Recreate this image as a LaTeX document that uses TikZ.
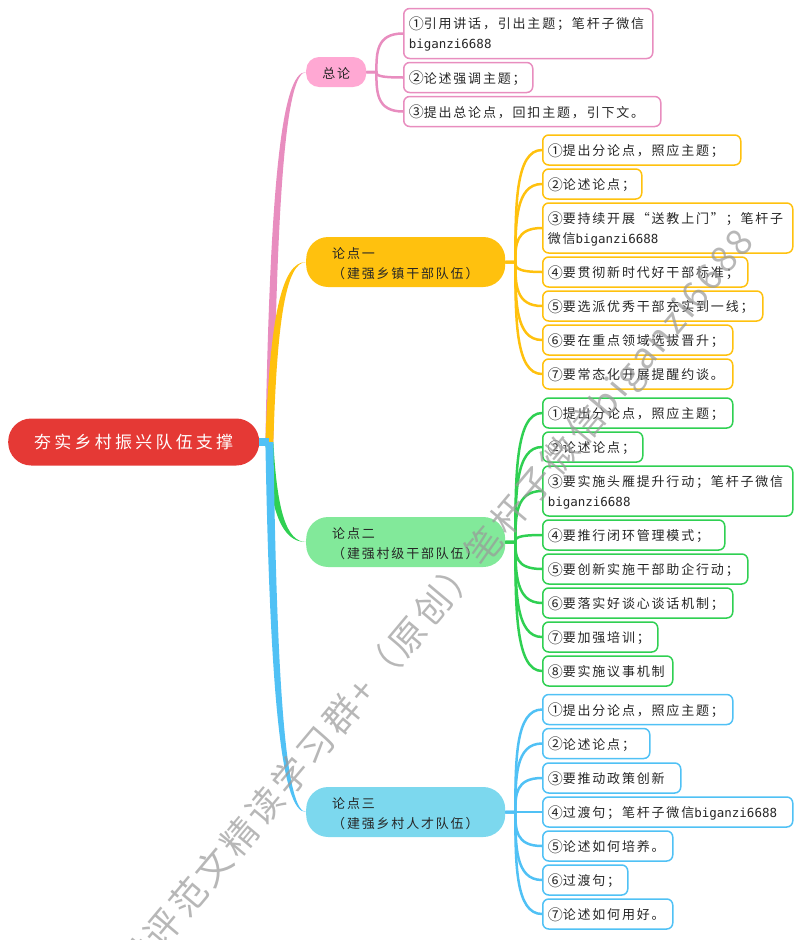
\documentclass[tikz,border=0pt]{standalone}
\usepackage{fontspec}
\usetikzlibrary{calc}
\setmainfont{Noto Sans CJK SC}[LetterSpace=14]
\newfontfamily\rootfont{Noto Sans CJK SC}[LetterSpace=19]
\newfontfamily\markfont{Noto Sans CJK SC}[LetterSpace=10]
\newfontfamily\marklatin{Noto Sans CJK SC}[LetterSpace=8]
\newfontfamily\wechatfont{DejaVu Sans Mono}
\newcommand{\wechat}{{\wechatfont\fontsize{12.5}{20}\selectfont biganzi6688}}
\newcommand{\nb}[1]{\makebox[15pt][l]{\raisebox{-0.6pt}{\fontsize{15}{20}\selectfont #1}}}
\definecolor{pinkline}{HTML}{E88DBF}
\definecolor{pinkfill}{HTML}{FFA8D3}
\definecolor{goldline}{HTML}{FFC10E}
\definecolor{greenline}{HTML}{2FD052}
\definecolor{greenfill}{HTML}{82E99A}
\definecolor{blueline}{HTML}{50C1F5}
\definecolor{bluefill}{HTML}{7CD8EE}
\definecolor{rootred}{HTML}{E53935}
\tikzset{
  leaf/.style={draw=#1,line width=1.5pt,rounded corners=6pt,anchor=west,inner xsep=5pt,inner ysep=0pt,
    minimum height=30pt,align=left,font=\fontsize{13}{20}\selectfont,text=black!85,text height=13.5pt},
  topic/.style={fill=#1,anchor=west,inner xsep=0pt,inner ysep=0pt,align=left,
    font=\fontsize{13}{20}\selectfont,text=black!85,text height=13.5pt},
  twigline/.style={line width=2.5pt}
}
% slim curve from a leaf's topic to the leaf
\newcommand{\twig}[3]{\draw[#1,twigline] (#2.east) -- ++(10,0) coordinate (jct)
  .. controls ($(jct)!.5!(jct |- #3.west)$) and (jct |- #3.west) .. (#3.west);}
% tapered limb from the hub to a topic
\newcommand{\limb}[2]{\fill[#1] let \p1=(hub),\p2=(#2.west),\n1={\x2-\x1},\n2={\y2-\y1} in
  (\x1-4pt,\y1) .. controls (\x1+0.11*\n1-3.5pt,\y1+0.69*\n2) and (\x1+0.4*\n1-2.5pt,\y2+0.002*\n2) .. (\p2)
  .. controls (\x1+0.4*\n1+2.5pt,\y2-0.002*\n2) and (\x1+0.11*\n1+3.5pt,\y1+0.69*\n2) .. (\x1+4pt,\y1) -- cycle;}
\begin{document}
\begin{tikzpicture}[x=1pt,y=-1pt]
\useasboundingbox (0,0) rectangle (800,940);
\node[fill=rootred,rounded corners=23pt,anchor=west,minimum width=251pt,minimum height=47pt,inner sep=0pt,text=white,text height=15pt,font=\rootfont\fontsize{17}{20}\selectfont] (root) at (8,442) {夯实乡村振兴队伍支撑};
\node[topic=pinkfill,rounded corners=13pt,minimum width=60pt,minimum height=30pt,align=center] (zonglun) at (306,72) {总论};
\node[topic=goldline,rounded corners=22pt,text width=199pt,minimum height=50pt] (point1) at (306,262) {\hspace{26pt}论点一\\\hspace{26pt}（建强乡镇干部队伍）};
\node[topic=greenfill,rounded corners=22pt,text width=199pt,minimum height=50pt] (point2) at (306,542) {\hspace{26pt}论点二\\\hspace{26pt}（建强村级干部队伍）};
\node[topic=bluefill,rounded corners=22pt,text width=199pt,minimum height=50pt] (point3) at (306,812) {\hspace{26pt}论点三\\\hspace{26pt}（建强乡村人才队伍）};
% pink leaves
\node[leaf=pinkline,text width=239pt,minimum height=50pt] (z1) at (403,33.5) {\nb{①}引用讲话，引出主题；笔杆子微信\\\wechat};
\node[leaf=pinkline,text width=119pt] (z2) at (403,77.5) {\nb{②}论述强调主题；};
\node[leaf=pinkline,text width=247pt] (z3) at (403,111.5) {\nb{③}提出总论点，回扣主题，引下文。};
% gold leaves
\node[leaf=goldline,text width=188pt] (a1) at (542,150) {\nb{①}提出分论点，照应主题；};
\node[leaf=goldline,text width=89pt] (a2) at (542,184) {\nb{②}论述论点；};
\node[leaf=goldline,text width=240pt,minimum height=50pt] (a3) at (542,228) {\nb{③}要持续开展“送教上门”；笔杆子\\微信\wechat};
\node[leaf=goldline,text width=195pt] (a4) at (542,272) {\nb{④}要贯彻新时代好干部标准；};
\node[leaf=goldline,text width=210pt] (a5) at (542,306) {\nb{⑤}要选派优秀干部充实到一线；};
\node[leaf=goldline,text width=180pt] (a6) at (542,340) {\nb{⑥}要在重点领域选拔晋升；};
\node[leaf=goldline,text width=180pt] (a7) at (542,374) {\nb{⑦}要常态化开展提醒约谈。};
% green leaves
\node[leaf=greenline,text width=180pt] (b1) at (542,413) {\nb{①}提出分论点，照应主题；};
\node[leaf=greenline,text width=90pt] (b2) at (542,447) {\nb{②}论述论点；};
\node[leaf=greenline,text width=240pt,minimum height=50pt] (b3) at (542,491) {\nb{③}要实施头雁提升行动；笔杆子微信\\\wechat};
\node[leaf=greenline,text width=172pt] (b4) at (542,535) {\nb{④}要推行闭环管理模式；};
\node[leaf=greenline,text width=195pt] (b5) at (542,569) {\nb{⑤}要创新实施干部助企行动；};
\node[leaf=greenline,text width=180pt] (b6) at (542,603) {\nb{⑥}要落实好谈心谈话机制；};
\node[leaf=greenline,text width=105pt] (b7) at (542,637) {\nb{⑦}要加强培训；};
\node[leaf=greenline,text width=120pt] (b8) at (542,671) {\nb{⑧}要实施议事机制};
% blue leaves
\node[leaf=blueline,text width=180pt] (c1) at (542,709.5) {\nb{①}提出分论点，照应主题；};
\node[leaf=blueline,text width=97pt] (c2) at (542,743.5) {\nb{②}论述论点；};
\node[leaf=blueline,text width=128pt] (c3) at (542,778) {\nb{③}要推动政策创新};
\node[leaf=blueline,text width=240pt] (c4) at (542,812) {\nb{④}过渡句；笔杆子微信\wechat};
\node[leaf=blueline,text width=120pt] (c5) at (542,846) {\nb{⑤}论述如何培养。};
\node[leaf=blueline,text width=75pt] (c6) at (542,880) {\nb{⑥}过渡句；};
\node[leaf=blueline,text width=120pt] (c7) at (542,914) {\nb{⑦}论述如何用好。};
% limbs from the root
\coordinate (hub) at ($(root.east)+(10,0)$);
\limb{pinkline}{zonglun}
\limb{goldline}{point1}
\limb{greenline}{point2}
\limb{blueline}{point3}
\draw[blueline,line width=8pt] (root.east) -- (hub);
% twigs
\twig{pinkline}{zonglun}{z1} \twig{pinkline}{zonglun}{z2} \twig{pinkline}{zonglun}{z3}
\foreach \n in {1,...,7} {\twig{goldline}{point1}{a\n}}
\foreach \n in {1,...,8} {\twig{greenline}{point2}{b\n}}
\foreach \n in {1,...,7} {\twig{blueline}{point3}{c\n}}
% watermark
\begin{scope}
\clip (0,0) rectangle (800,940);
\node[rotate=50,anchor=east,inner sep=0pt,text=black!40,opacity=.7,font=\markfont\fontsize{36}{40}\selectfont] (mark) at (747,236) {时评范文精读学习群+（原创）笔杆子微信{\marklatin biganzi6688}};
\end{scope}
\end{tikzpicture}
\end{document}
